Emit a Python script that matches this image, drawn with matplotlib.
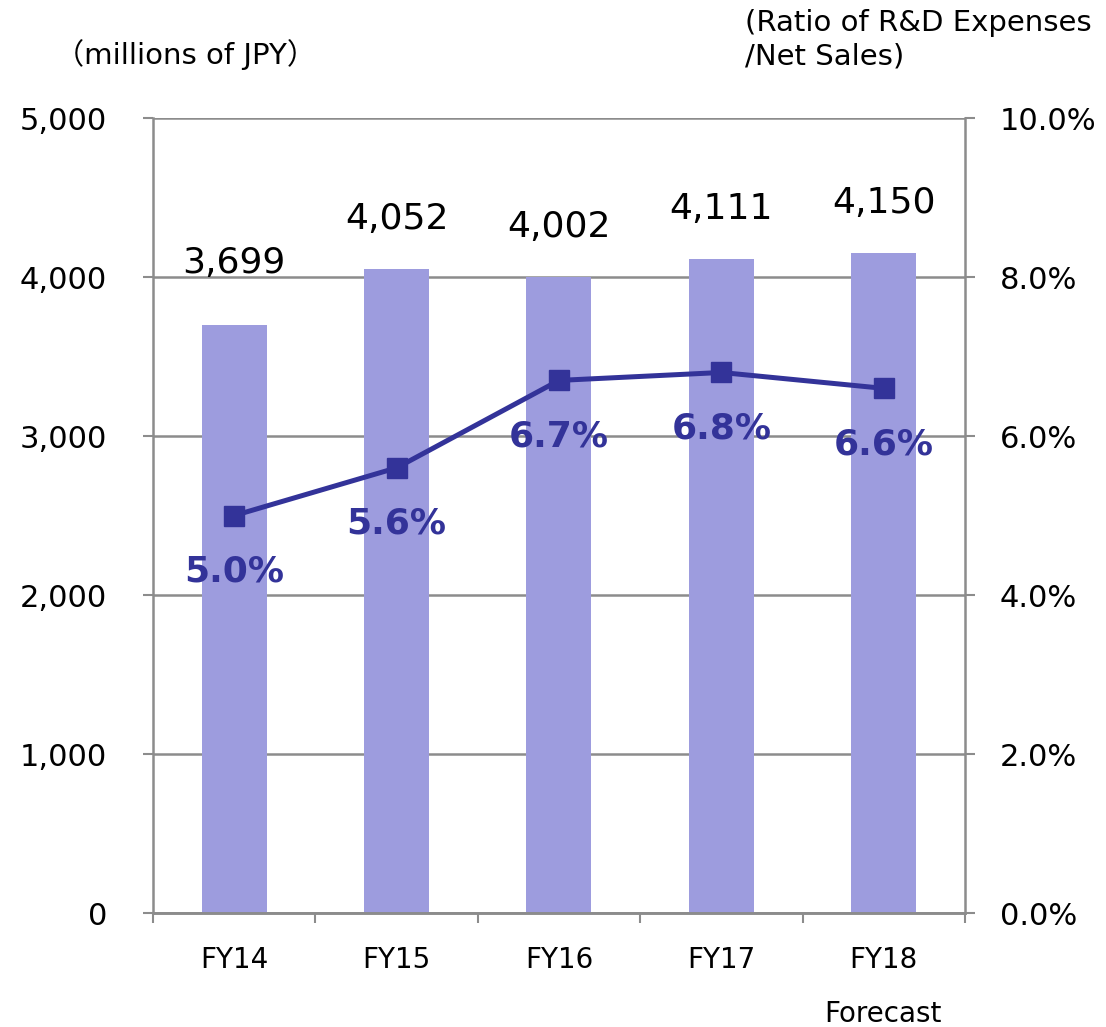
import matplotlib
matplotlib.use("Agg")
import matplotlib.pyplot as plt
import numpy as np

years = ["FY14", "FY15", "FY16", "FY17", "FY18"]
expenses = [3699, 4052, 4002, 4111, 4150]
ratio = [5.0, 5.6, 6.7, 6.8, 6.6]
left_ticks = [0, 1000, 2000, 3000, 4000, 5000]
right_ticks = [0, 2, 4, 6, 8, 10]

bar_color = "#9d9cde"
line_color = "#333399"
grid_color = "#8c8c8c"

plt.rcParams["font.family"] = "DejaVu Sans"

fig = plt.figure(figsize=(11.06, 10.27), dpi=100)
ax = fig.add_axes([0.1383, 0.111, 0.7342, 0.774])
ax2 = ax.twinx()

x = np.arange(len(years))
ax.bar(x, expenses, width=0.4, color=bar_color, zorder=2)

# value labels above the bars (FY14 sits a bit higher in the original)
lift = [62, 50, 50, 50, 50]
for xi, v, d in zip(x, expenses, lift):
    ax.annotate(f"{v:,}", (xi, v), xytext=(0, d * 0.72), textcoords="offset points",
                ha="center", va="center", fontsize=26, color="black", zorder=5)

ax.set_xlim(-0.5, len(years) - 0.5)
ax.set_ylim(0, 5000)
ax.set_yticks(left_ticks)
ax.set_yticklabels([f"{t:,}" for t in left_ticks])
ax.yaxis.grid(True, color=grid_color, linewidth=1.8, zorder=0)
ax.set_axisbelow(True)

ax.set_xticks(x)
ax.set_xticklabels(years)
ax.set_xticks(np.arange(-0.5, len(years)), minor=True)
ax.tick_params(axis="x", which="major", length=0, pad=24, labelsize=20)
ax.tick_params(axis="x", which="minor", length=7, width=1.5, color=grid_color, direction="out")
ax.tick_params(axis="y", length=7, width=1.5, color=grid_color, pad=26, labelsize=22)

ax2.plot(x, ratio, color=line_color, linewidth=3.6, marker="s", markersize=14, zorder=4)
for xi, r in zip(x, ratio):
    ax2.annotate(f"{r:.1f}%", (xi, r), xytext=(0, -56 * 0.72), textcoords="offset points",
                 ha="center", va="center", fontsize=26, fontweight="bold", color=line_color)
ax2.set_ylim(0, 10)
ax2.set_yticks(right_ticks)
ax2.set_yticklabels([f"{t:.1f}%" for t in right_ticks])
ax2.tick_params(axis="y", length=7, width=1.5, color=grid_color, pad=18, labelsize=22)

for a in (ax, ax2):
    a.spines["top"].set_visible(False)
    for s in ("left", "right", "bottom"):
        a.spines[s].set_color(grid_color)
        a.spines[s].set_linewidth(1.8)
ax2.spines["left"].set_visible(False)
ax.spines["right"].set_visible(False)

fig.text(55 / 1106, 1 - 55 / 1027, "（millions of JPY）", fontsize=21, ha="left", va="center",
         family=["DejaVu Sans", "Noto Sans CJK JP"])
fig.text(745 / 1106, 1 - 40 / 1027, "(Ratio of R&D Expenses\n/Net Sales)", fontsize=21,
         ha="left", va="center", linespacing=1.25)
fig.text(883 / 1106, 1 - 1014 / 1027, "Forecast", fontsize=20, ha="center", va="center")

fig.savefig("out.png", dpi=100)
